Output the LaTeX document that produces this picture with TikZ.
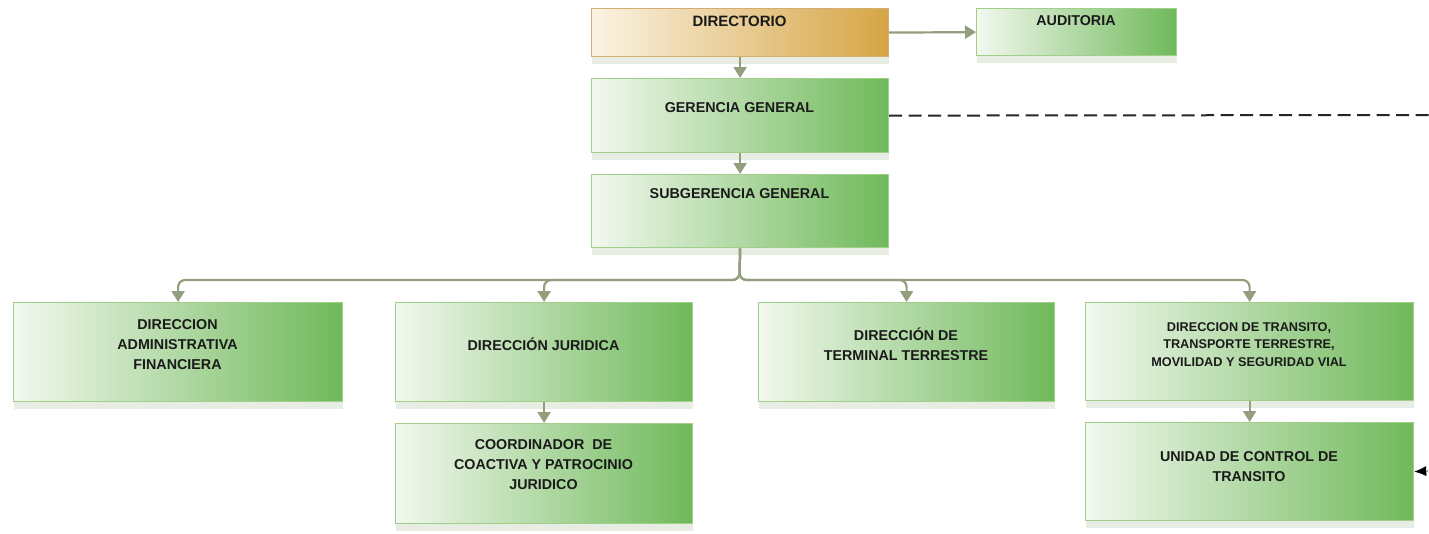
\documentclass[tikz,border=0pt]{standalone}
\usepackage{fontspec}
\setmainfont{Liberation Sans}
\usetikzlibrary{arrows.meta,shadows}
\definecolor{gl}{HTML}{F2F8EE}
\definecolor{gr}{HTML}{6FB95A}
\definecolor{gb}{HTML}{9FCF8A}
\definecolor{yl}{HTML}{FBF3E3}
\definecolor{yr}{HTML}{D6A545}
\definecolor{yb}{HTML}{D2AE72}
\definecolor{conncol}{HTML}{939E7E}
\definecolor{ink}{HTML}{1A1A1A}
\definecolor{shd}{HTML}{C4D3B8}
\begin{document}
\begin{tikzpicture}[x=1pt,y=-1pt,
  box/.style={draw=gb, line width=1.2pt, left color=gl, right color=gr, anchor=north west, inner sep=0pt,
    drop shadow={shadow xshift=0pt, shadow yshift=-7pt, opacity=0.4, fill=shd}},
  goldbox/.style={box, draw=yb, left color=yl, right color=yr},
  txt/.style={text=ink, align=center, inner sep=0pt, font=\bfseries\fontsize{14.3}{20}\selectfont},
  bigtxt/.style={txt, font=\bfseries\fontsize{15}{20}\selectfont},
  smalltxt/.style={txt, font=\bfseries\fontsize{12.7}{17.5}\selectfont},
  arr/.style={draw=conncol, line width=2.2pt, -{Triangle[length=11pt,width=13pt]}, color=conncol},
  tree/.style={arr, rounded corners=7pt}
]
\useasboundingbox (0,0) rectangle (1429,533);

% boxes
\node[goldbox, minimum width=297pt, minimum height=48pt] (dir) at (591,8) {};
\node[box, minimum width=200pt, minimum height=47pt] (aud) at (976,8) {};
\node[box, minimum width=297pt, minimum height=74pt] (ger) at (591,78) {};
\node[box, minimum width=297pt, minimum height=73pt] (sub) at (591,174) {};
\node[box, minimum width=329pt, minimum height=99pt] (adm) at (13,302) {};
\node[box, minimum width=297pt, minimum height=99pt] (jur) at (395,302) {};
\node[box, minimum width=296pt, minimum height=99pt] (ter) at (758,302) {};
\node[box, minimum width=328pt, minimum height=98pt] (tra) at (1085,302) {};
\node[box, minimum width=297pt, minimum height=100pt] (coo) at (395,423) {};
\node[box, minimum width=328pt, minimum height=98pt] (uni) at (1085,422) {};

% texts
\node[bigtxt] (tdir) at (739.5,21.5) {DIRECTORIO};
\node[txt] (taud) at (1076,20.5) {AUDITORIA};
\node[txt] (tger) at (739.5,107.5) {GERENCIA GENERAL};
\node[txt] (tsub) at (739.5,194) {SUBGERENCIA GENERAL};
\node[txt] (tadm) at (177.5,345) {DIRECCION\\ADMINISTRATIVA\\FINANCIERA};
\node[txt] (tjur) at (543.5,344) {DIRECCIÓN JURIDICA};
\node[txt] (tter) at (906,344) {DIRECCIÓN DE\\TERMINAL TERRESTRE};
\node[smalltxt] (ttra) at (1249,344.5) {DIRECCION DE TRANSITO,\\TRANSPORTE TERRESTRE,\\MOVILIDAD Y SEGURIDAD VIAL};
\node[txt] (tcoo) at (543.5,465) {COORDINADOR\ \ DE\\COACTIVA Y PATROCINIO\\JURIDICO};
\node[txt] (tuni) at (1249,467) {UNIDAD DE CONTROL DE\\TRANSITO};

% connectors
\draw[arr] (dir.east) -- (aud.west);
\draw[arr] (dir.south) -- (ger.north);
\draw[arr] (ger.south) -- (sub.north);
\coordinate (hub) at (739.5,280);
\draw[tree] (sub.south) -- (hub) -| (adm.north);
\draw[tree] (sub.south) -- (hub) -| (jur.north);
\draw[tree] (sub.south) -- (hub) -| (ter.north);
\draw[tree] (sub.south) -- (hub) -| (tra.north);
\draw[arr] (jur.south) -- (coo.north);
\draw[arr] (tra.south) -- (uni.north);

\coordinate (dashend) at (1429,115);
\draw[black!85, line width=2pt, dash pattern=on 13pt off 6.5pt] (ger.east) -- (dashend);
\coordinate (ctrl) at (1428,471);
\draw[black, line width=0.6pt, -{Latex[length=12pt,width=10pt]}] (ctrl) -- (uni.east);
\end{tikzpicture}
\end{document}
